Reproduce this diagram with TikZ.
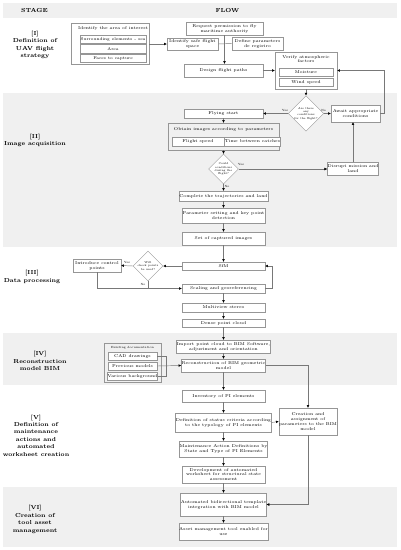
\documentclass[tikz,border=0pt]{standalone}
\usetikzlibrary{shapes.geometric,arrows.meta,calc}
\definecolor{band}{RGB}{240,240,240}
\definecolor{edge}{RGB}{150,150,150}
\definecolor{wire}{RGB}{120,120,120}
\begin{document}
\begin{tikzpicture}[x=1pt,y=-1pt,
  box/.style={draw=edge, fill=white, line width=0.45pt, inner sep=0.3pt, align=center, font=\fontsize{4.2}{4.9}\selectfont},
  grp/.style={draw=edge, fill=white, line width=0.45pt, inner sep=0pt},
  ttl/.style={inner sep=0pt, align=center, font=\fontsize{4.2}{4.9}\selectfont},
  dia/.style={diamond, draw=edge, fill=white, aspect=1, line width=0.45pt, inner sep=0pt, minimum width=30, minimum height=30, align=center, font=\fontsize{2.8}{3.2}\selectfont},
  stg/.style={align=center, inner sep=0pt, font=\bfseries\fontsize{5.8}{7.4}\selectfont},
  lbl/.style={inner sep=0pt, font=\fontsize{3}{3.5}\selectfont},
  wirestyle/.style={draw=wire, line width=0.45pt},
  arr/.style={wirestyle, -{Triangle[length=2.6pt,width=2.4pt,color=black]}}
]
\useasboundingbox (0,0) rectangle (400,550);
\fill[white] (0,0) rectangle (400,550);
% bands
\fill[band] (3,3) rectangle (397,18);
\fill[band] (3,93) rectangle (397,247);
\fill[band] (3,333) rectangle (397,385);
\fill[band] (3,487) rectangle (397,547);
% headers
\node[stg] (hstage) at (34.5,10.5) {STAGE};
\node[stg] (hflow) at (227.5,10.5) {FLOW};
% stage labels
\node[stg] (s1) at (35,45) {[I]\\Definition of\\UAV flight\\strategy};
\node[stg] (s2) at (35,140.5) {[II]\\Image acquisition};
\node[stg] (s3) at (32,277) {[III]\\Data processing};
\node[stg] (s4) at (40,361) {[IV]\\Reconstruction\\model BIM};
\node[stg] (s5) at (36,435.5) {[V]\\Definition of\\maintenance\\actions and\\automated\\worksheet creation};
\node[stg] (s6) at (35,519.5) {[VI]\\Creation of\\tool asset\\management};

% ---- Stage I
\node[grp, minimum width=78, minimum height=41] (areag) at (110,43.5) {};
\node[ttl] (areat) at (113,28.5) {Identify the area of interest};
\node[box, font=\fontsize{4}{4.6}\selectfont, minimum width=66, minimum height=8.5] (surr) at (113,39.25) {Surrounding elements - sea};
\node[box, font=\fontsize{4}{4.6}\selectfont, minimum width=66, minimum height=8.5] (area) at (113,48.75) {Area};
\node[box, font=\fontsize{4}{4.6}\selectfont, minimum width=66, minimum height=8.5] (faces) at (113,58.25) {Faces to capture};
\node[box, minimum width=51, minimum height=12] (safe) at (192.5,44) {Identify safe flight\\space};
\node[box, minimum width=77, minimum height=13] (request) at (224.5,28.5) {Request permission to fly\\maritime authority};
\node[box, minimum width=51, minimum height=13] (define) at (257.5,43.5) {Define parameters\\de registro};
\node[box, minimum width=79, minimum height=13] (design) at (223.5,70.5) {Design flight paths};
\node[grp, minimum width=62, minimum height=37] (verifyg) at (306,70.5) {};
\node[ttl] (verifyt) at (306,59) {Verify atmospheric\\factors};
\node[box, minimum width=54, minimum height=8] (moist) at (306,72) {Moisture};
\node[box, minimum width=54, minimum height=8] (wind) at (306,82) {Wind speed};

% ---- Stage II
\node[dia] (d1) at (306,113.5) {Are there\\any\\conditions\\for the flight?};
\node[box, minimum width=79, minimum height=9] (flying) at (223.5,113.5) {Flying start};
\node[box, minimum width=49, minimum height=17] (await) at (355.5,113.5) {Await appropriate\\conditions};
\node[grp, fill=band, minimum width=111, minimum height=27] (obtaing) at (223.5,136.5) {};
\node[ttl] (obtaint) at (223.5,129.5) {Obtain images according to parameters};
\node[box, minimum width=52, minimum height=9] (speed) at (198,141.5) {Flight speed};
\node[box, minimum width=51, minimum height=9] (catches) at (252.5,141.5) {Time between catches};
\node[dia] (d2) at (223.5,169) {Could\\conditions\\during the\\flight?};
\node[box, minimum width=48, minimum height=13] (disrupt) at (353,169) {Disrupt mission and\\land};
\node[box, minimum width=83, minimum height=10] (complete) at (223.5,196) {Complete the trajectories and land};
\node[box, minimum width=83, minimum height=15] (param) at (223.5,215.5) {Parameter setting and key point\\detection};
\node[box, minimum width=83, minimum height=13] (setimg) at (223.5,238.5) {Set of captured images};

% ---- Stage III
\node[box, minimum width=83, minimum height=8] (sfm) at (223.5,266) {SfM};
\node[dia] (d3) at (148,266) {Will\\check points\\be used?};
\node[box, minimum width=48, minimum height=13] (intro) at (97,265.5) {Introduce control\\points};
\node[box, minimum width=83, minimum height=9] (scaling) at (223.5,288.5) {Scaling and georeferencing};
\node[box, minimum width=83, minimum height=9] (multi) at (223.5,307.5) {Multiview stereo};
\node[box, minimum width=83, minimum height=8] (dense) at (223.5,323) {Dense point cloud};

% ---- Stage IV
\node[box, minimum width=83, minimum height=13] (import) at (223.5,346.5) {Import point cloud to BIM Software,\\adjustment and orientation};
\node[box, minimum width=83, minimum height=13] (recon) at (223.5,365.5) {Reconstruction of BIM geometric\\model};
\node[grp, fill=band, minimum width=57, minimum height=39] (docg) at (132.5,362.5) {};
\node[ttl, font=\fontsize{3}{3.5}\selectfont] (doct) at (132.5,347.5) {Existing documentation};
\node[box, font=\fontsize{4.2}{4.8}\selectfont, minimum width=49, minimum height=8] (cad) at (132.5,356) {CAD drawings};
\node[box, font=\fontsize{4.2}{4.8}\selectfont, minimum width=49, minimum height=8] (prev) at (132.5,366) {Previous models};
\node[box, font=\fontsize{4.2}{4.8}\selectfont, minimum width=49, minimum height=8] (various) at (132.5,376) {Various background};

% ---- Stage V
\node[box, minimum width=83, minimum height=12] (invent) at (223.5,396) {Inventory of PI elements};
\node[box, minimum width=83, minimum height=19] (status) at (223.5,422.5) {Definition of status criteria according\\to the typology of PI elements};
\node[box, minimum width=83, minimum height=16] (maint) at (223.5,449) {Maintenance Action Definitions by\\State and Type of PI  Elements};
\node[box, minimum width=83, minimum height=17] (develop) at (223.5,474.5) {Development of automated\\worksheet for structural state\\assessment};
\node[box, minimum width=54, minimum height=27] (creation) at (308,421.5) {Creation and\\assignment of\\parameters to the BIM\\model};

% ---- Stage VI
\node[box, minimum width=83, minimum height=23] (autobid) at (223.5,504.5) {Automated bidirectional template\\integration with BIM model};
\node[box, minimum width=83, minimum height=17] (asset) at (223.5,531.5) {Asset management tool enabled for\\use};

% ---- connectors
\draw[arr] (areag.east |- safe.west) -- (safe.west);
\draw[wirestyle] (safe.east) -- (define.west);
\draw[arr] (request.south) -- (request.south |- design.north);
\draw[arr] (design.east) -- (verifyg.west);
\draw[arr] (verifyg.south) -- (d1.north);
\draw[arr] (d1.west) -- (flying.east);
\draw[arr] (d1.east) -- (await.west);
\node[lbl] (yes1) at (285,110) {Yes};
\node[lbl] (no1) at (323.5,110) {No};
\draw[arr] (await.east) -- ++(4,0) |- (verifyg.east);
\draw[arr] (flying.south) -- (obtaing.north);
\draw[arr] (obtaing.south) -- (d2.north);
\draw[arr] (d2.east) -- (disrupt.west);
\node[lbl] (yes2) at (241,164.5) {Yes};
\draw[arr] (disrupt.north) -- (disrupt.north |- await.south);
\draw[arr] (d2.south) -- (complete.north);
\node[lbl] (no2) at (227,186.5) {No};
\draw[arr] (complete.south) -- (param.north);
\draw[arr] (param.south) -- (setimg.north);
\draw[arr] (setimg.south) -- (sfm.north);
\draw[arr] (scaling.east) -- ++(7,0) |- (sfm.east);
\draw[arr] (sfm.west) -- (d3.east);
\draw[arr] (d3.west) -- (intro.east);
\node[lbl] (yes3) at (127,262) {Yes};
\draw[arr] (intro.south) |- (scaling.west);
\draw[wirestyle] (d3.south) -- (d3.south |- scaling.west);
\node[lbl] (no3) at (143,284.5) {No};
\draw[arr] (scaling.south) -- (multi.north);
\draw[arr] (multi.south) -- (dense.north);
\draw[arr] (dense.south) -- (import.north);
\draw[arr] (import.south) -- (recon.north);
\draw[wirestyle] (cad.east) -- ++(9,0) |- (various.east);
\draw[arr] (prev.east) -- (recon.west);
\draw[arr] (recon.east) -| (creation.north);
\draw[arr] (recon.south) -- (invent.north);
\draw[arr] (invent.south) -- (status.north);
\draw[arr] (status.east) -- (creation.west);
\draw[arr] (status.south) -- (maint.north);
\draw[arr] (maint.south) -- (develop.north);
\draw[arr] (develop.south) -- (autobid.north);
\draw[arr] (creation.south) |- (autobid.east);
\draw[arr] (autobid.south) -- (asset.north);
\end{tikzpicture}
\end{document}
